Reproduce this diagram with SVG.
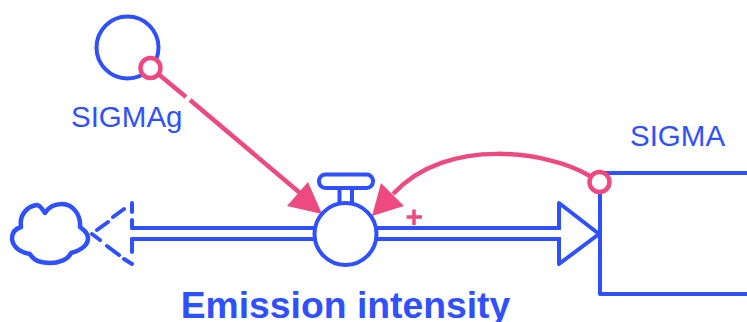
<svg xmlns="http://www.w3.org/2000/svg" width="747" height="322" viewBox="0 0 747 322">
<style>
.b{fill:none;stroke:#2f50ff;stroke-width:4;stroke-linecap:round;stroke-linejoin:round}
.p{fill:none;stroke:#ec4a80;stroke-width:4.500}
.ph{fill:#ec4a80;stroke:none}
.t{font-family:"Liberation Sans",Arial,sans-serif;fill:#2f50ff;font-size:29.500px}
</style>
<rect width="747" height="322" fill="#fff"/>
<g id="connectors">
<path class="b" d="M132 228H316M132 239H316M376 228H559M376 239H559"/>
<path class="b" style="fill:#fff" d="M559 203L599 234L559 264Z"/>
<path d="M559 230V237" fill="none" stroke="#fff" stroke-width="5"/>
<path class="b" d="M132 203V212M132 220V228M132 239V252M124 259L132 264M113 217L124 209M97 230L108 222M92 234L100 240M107 246L119 255"/>
<path class="p" d="M157 73L186 97M190 100L300 193"/>
<path class="ph" d="M287 206L308 182L322 214Z"/>
<path class="p" d="M590 176C550 152 448 135 393 194"/>
<path class="ph" d="M372 216L381 183L404 206Z"/>
<path d="M406.500 217H422M414 209.500V225" fill="none" stroke="#ec4a80" stroke-width="3.500"/>
</g>
<g id="cloud">
<path class="b" style="stroke-width:4.500" d="M30 254C18 252 12 245 12 238C12 233 15 229 21 227C19 214 28 206 37 205C40 205 43 210 45 213C48 208 54 204 62 204C73 204 81 215 80 227C84 230 88 233 88 238C88 247 78 251 71 253C68 260 58 263 50 263C40 263 33 260 30 254Z"/>
</g>
<g id="SIGMAg">
<circle class="b" cx="127.500" cy="47.500" r="31"/>
<circle class="p" style="fill:#fff" cx="150.500" cy="68" r="10"/>
<text class="t" x="71" y="127">SIGMAg</text>
</g>
<g id="valve">
<path class="b" d="M339.500 188V205M352 188V205"/>
<rect class="b" x="319" y="174.500" width="54" height="13.500" rx="6.500"/>
<circle class="b" style="fill:#fff" cx="345.500" cy="234" r="31"/>
<text x="345.500" y="318" text-anchor="middle" style="font-family:'Liberation Sans',Arial,sans-serif;font-weight:bold;font-size:37.300px;fill:#2f50ff">Emission intensity</text>
</g>
<g id="SIGMA">
<path class="b" d="M747 173H600V294H747"/>
<circle class="p" style="fill:#fff" cx="599.500" cy="182" r="10"/>
<text class="t" x="630" y="146">SIGMA</text>
</g>
</svg>
